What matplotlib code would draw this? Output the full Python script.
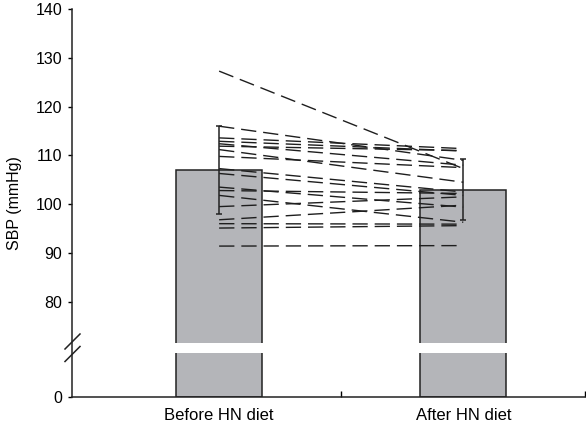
import matplotlib
matplotlib.use("Agg")
import matplotlib.pyplot as plt
from matplotlib.lines import Line2D
import numpy as np

# individual SBP values (mmHg)
before = [127.3, 116.0, 113.6, 112.9, 112.4, 111.9, 111.2, 109.8, 107.3,
          106.3, 103.5, 102.8, 101.8, 99.5, 96.8, 96.0, 95.1, 91.4]
after = [107.3, 109.0, 111.4, 110.9, 108.0, 111.0, 104.5, 107.5, 102.5,
         101.8, 99.4, 102.2, 96.3, 101.5, 99.8, 95.9, 95.6, 91.5]

groups = ["Before HN diet", "After HN diet"]
means = [107.0, 103.0]
sds = [9.0, 6.2]
yticks = [0, 80, 90, 100, 110, 120, 130, 140]

# broken y axis: 0..BRK squeezed into a short stub below the break
T0, BRK = 60.5, 71.6
K = (BRK - T0) / BRK


def fwd(v):
    v = np.asarray(v, dtype=float)
    return np.where(v >= BRK, v, T0 + v * K)


def inv(t):
    t = np.asarray(t, dtype=float)
    return np.where(t >= BRK, t, (t - T0) / K)


plt.rcParams["font.family"] = ["Liberation Sans", "DejaVu Sans"]

W, H = 586, 423
fig = plt.figure(figsize=(W / 100, H / 100), dpi=100)
ax = fig.add_axes([0.1229, 0.0622, 0.876, 0.916])
ax.set_yscale("function", functions=(fwd, inv))

xpos = [0.5, 1.5]
ax.bar(xpos, means, width=0.352, color="#b4b5b9", edgecolor="#222222",
       linewidth=1.1, zorder=1)
# white gap across the bars at the break
ax.axhspan(float(inv(69.4)), BRK, color="white", zorder=2, lw=0)

for b, a in zip(before, after):
    ax.plot(xpos, [b, a], color="#1e1e1e", lw=1.0, dashes=(11, 5), zorder=3)

ax.errorbar(xpos, means, yerr=sds, fmt="none", ecolor="#222222",
            elinewidth=1.1, capsize=2.5, capthick=1.1, zorder=4)

ax.set_xlim(-0.1025, 2.0)
ax.set_ylim(0, 140)
ax.set_yticks(yticks)
ax.set_yticklabels([str(t) for t in yticks])
ax.set_xticks(xpos)
ax.set_xticklabels(groups)
ax.set_xticks([1.0, 2.0], minor=True)
ax.tick_params(axis="x", which="major", length=0, pad=8, labelsize=12)
ax.tick_params(axis="x", which="minor", direction="in", length=4, width=1.0)
ax.tick_params(axis="y", length=3, width=1.0, pad=4, labelsize=11.5)
ax.set_ylabel("SBP (mmHg)", fontsize=11.5, labelpad=10)

for s in ["top", "right"]:
    ax.spines[s].set_visible(False)
for s in ["left", "bottom"]:
    ax.spines[s].set_linewidth(1.1)
    ax.spines[s].set_color("#222222")

# break marks (//) on the y axis, in pixel units of the figure
for yc in [341.5, 354.0]:
    fig.add_artist(Line2D([(72 - 7) / W, (72 + 8) / W],
                          [1 - (yc + 7.5) / H, 1 - (yc - 7.5) / H],
                          transform=fig.transFigure, color="#222222", lw=1.1))

fig.savefig("out.png", dpi=100)
